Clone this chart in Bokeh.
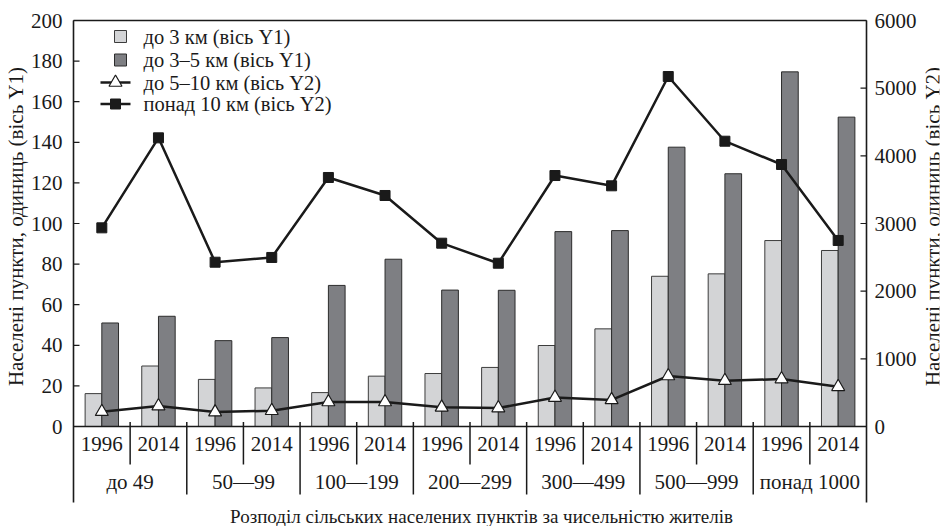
import math
from bokeh.plotting import figure
from bokeh.models import FactorRange, Range1d, ColumnDataSource
from bokeh.transform import dodge
from bokeh.embed import file_html
from bokeh.resources import INLINE
from bokeh.core.properties import value

# ---------------- data ----------------
groups = ["до 49", "50—99", "100—199", "200—299", "300—499", "500—999", "понад 1000"]
years = ["1996", "2014"]
# bars (axis Y1)
km_3 = [16.2, 29.8, 23.2, 19.0, 16.7, 24.8, 26.1, 29.1, 39.9, 48.1, 74.0, 75.2, 91.6, 86.7]
km_3_5 = [51.0, 54.3, 42.3, 43.8, 69.5, 82.4, 67.2, 67.1, 96.0, 96.5, 137.6, 124.5, 174.7, 152.4]
# lines (axis Y2)
km_5_10 = [219, 302, 213, 233, 362, 362, 283, 273, 428, 393, 746, 677, 701, 587]
km_10 = [2936, 4266, 2428, 2498, 3680, 3414, 2709, 2413, 3709, 3557, 5172, 4216, 3872, 2749]

y1_ticks = [0, 20, 40, 60, 80, 100, 120, 140, 160, 180, 200]
y2_ticks = [0, 1000, 2000, 3000, 4000, 5000, 6000]
legend_labels = ["до 3 км (вісь Y1)", "до 3–5 км (вісь Y1)",
                 "до 5–10 км (вісь Y2)", "понад 10 км (вісь Y2)"]
y1_title = "Населені пункти, одиниць (вісь Y1)"
y2_title = "Населені пункти, одиниць (вісь Y2)"
x_title = "Розподіл сільських населених пунктів за чисельністю жителів"

factors = [(g, y) for g in groups for y in years]

FONT = value("Liberation Serif")
INK = "#1a1a1a"
LIGHT = "#d3d4d6"
DARK = "#7e7f83"
EDGE_L = "#3c3c3c"
EDGE_D = "#2c2c2c"

# ---------------- geometry (page pixels) ----------------
W, H = 945, 526
X_LEFT, X_RIGHT = 73, 866          # data area edges
Y_TOP, Y_ZERO = 20, 426            # 200 and 0 on the Y1 axis
N = len(factors)
PXX = (X_RIGHT - X_LEFT) / N       # pixels per category
Y1_MAX, Y2_MAX = y1_ticks[-1], y2_ticks[-1]
PX = (Y_ZERO - Y_TOP) / Y1_MAX     # pixels per Y1 unit
Y2_SCALE = Y2_MAX / Y1_MAX


def sx(page_x):
    """synthetic x coordinate of a page pixel column"""
    return (page_x - X_LEFT) / PXX


def sy(page_y):
    """Y1 coordinate of a page pixel row"""
    return (Y_ZERO - page_y) / PX


pad = 2 * X_LEFT / (X_RIGHT - X_LEFT)
x_range = FactorRange(*factors, group_padding=0, factor_padding=0, subgroup_padding=0,
                      range_padding=pad, range_padding_units="percent")
y_range = Range1d(sy(H), sy(0))

p = figure(width=W, height=H, x_range=x_range, y_range=y_range,
           output_backend="svg", toolbar_location=None,
           x_axis_location=None, y_axis_location=None,
           min_border_left=0, min_border_right=(W - X_RIGHT) - X_LEFT,
           min_border_top=0, min_border_bottom=0,
           background_fill_color="white", border_fill_color="white")
p.extra_y_ranges = {"y2": Range1d(sy(H) * Y2_SCALE, sy(0) * Y2_SCALE)}
p.grid.visible = False
p.outline_line_color = None

src = ColumnDataSource(dict(x=factors, km_3=km_3, km_3_5=km_3_5,
                            km_5_10=km_5_10, km_10=km_10))

# ---------------- bars and lines ----------------
BW = 0.295
p.vbar(x=dodge("x", -BW / 2, range=x_range), top="km_3", width=BW, source=src,
       fill_color=LIGHT, line_color=EDGE_L, line_width=1)
p.vbar(x=dodge("x", BW / 2, range=x_range), top="km_3_5", width=BW, source=src,
       fill_color=DARK, line_color=EDGE_D, line_width=1)

p.line(x="x", y="km_5_10", source=src, y_range_name="y2", line_color=INK, line_width=2.5)
p.scatter(x="x", y="km_5_10", source=src, y_range_name="y2", marker="triangle",
          size=13, fill_color="white", line_color=INK, line_width=1.2)
p.line(x="x", y="km_10", source=src, y_range_name="y2", line_color=INK, line_width=2.5)
p.scatter(x="x", y="km_10", source=src, y_range_name="y2", marker="square",
          size=10, fill_color=INK, line_color=INK)

# ---------------- frame ----------------
L, R = 0, N                        # synthetic edges of the category area
p.segment(x0=[L, L], y0=[Y1_MAX, 0], x1=[R, R], y1=[Y1_MAX, 0],
          line_color=INK, line_width=1.5)
p.segment(x0=[L, R], y0=[sy(502)] * 2, x1=[L, R], y1=[Y1_MAX] * 2,
          line_color=INK, line_width=1.6)

# ---------------- Y1 axis (left) ----------------
p.segment(x0=L, x1=L + 6 / PXX, y0=y1_ticks, y1=y1_ticks, line_color=INK, line_width=1.2)
p.text(x=L - 11 / PXX, y=y1_ticks, text=[str(t) for t in y1_ticks],
       text_font=FONT, text_font_size="21px", text_color=INK,
       text_align="right", text_baseline="middle")
p.text(x=[sx(16)], y=[sy(226)], text=[y1_title], angle=math.pi / 2,
       text_font=FONT, text_font_size="21px", text_color=INK,
       text_align="center", text_baseline="middle")

# ---------------- Y2 axis (right) ----------------
p.segment(x0=R - 6 / PXX, x1=R, y0=y2_ticks, y1=y2_ticks, y_range_name="y2",
          line_color=INK, line_width=1.2)
p.text(x=R + 8 / PXX, y=y2_ticks, text=[str(t) for t in y2_ticks], y_range_name="y2",
       text_font=FONT, text_font_size="21px", text_color=INK,
       text_align="left", text_baseline="middle")
p.text(x=[sx(932)], y=[sy(226)], text=[y2_title], angle=math.pi / 2,
       text_font=FONT, text_font_size="21px", text_color=INK,
       text_align="center", text_baseline="middle")

# ---------------- category axis (below) ----------------
year_sep = [(g, "2014") for g in groups]
group_sep = [(g, "1996") for g in groups[1:]]
sep_src = ColumnDataSource(dict(
    x=year_sep + group_sep,
    bot=[sy(464)] * len(year_sep) + [sy(494)] * len(group_sep)))
p.segment(x0=dodge("x", -0.5, range=x_range), y0="bot",
          x1=dodge("x", -0.5, range=x_range), y1=sy(Y_ZERO - 4.5),
          source=sep_src, line_color=INK, line_width=1.5)

p.text(x=factors, y=sy(443), text=[f[1] for f in factors],
       text_font=FONT, text_font_size="21px", text_color=INK,
       text_align="center", text_baseline="middle")
p.text(x=groups, y=sy(481.5), text=groups,
       text_font=FONT, text_font_size="21px", text_color=INK,
       text_align="center", text_baseline="middle")
p.text(x=[sx(481)], y=[sy(516)], text=[x_title],
       text_font=FONT, text_font_size="19px", text_color=INK,
       text_align="center", text_baseline="alphabetic")

# ---------------- legend (drawn with glyphs) ----------------
rows = [sy(36), sy(59.5), sy(82), sy(103.5)]
p.scatter(x=sx(120), y=rows[:2], marker="square", size=12,
          fill_color=[LIGHT, DARK], line_color=[EDGE_L, EDGE_D], line_width=1)
p.segment(x0=sx(100), x1=sx(130), y0=rows[2:], y1=rows[2:], line_color=INK, line_width=2.5)
p.scatter(x=sx(115), y=rows[2:3], marker="triangle", size=13,
          fill_color="white", line_color=INK, line_width=1.2)
p.scatter(x=sx(115), y=rows[3:], marker="square", size=10,
          fill_color=INK, line_color=INK)
p.text(x=sx(143), y=rows, text=legend_labels,
       text_font=FONT, text_font_size="20.5px", text_color=INK,
       text_align="left", text_baseline="middle")

open("out.html", "w").write(file_html(p, INLINE))
